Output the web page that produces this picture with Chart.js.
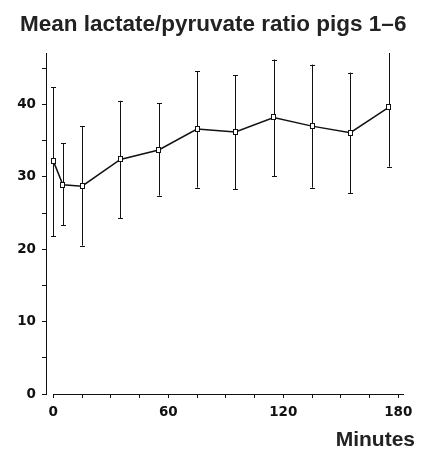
<!DOCTYPE html>
<html>
<head>
<meta charset="utf-8">
<script src="https://cdn.jsdelivr.net/npm/chart.js@4"></script>
<style>
  html, body { margin: 0; padding: 0; background: #fff; }
  #wrap { width: 427px; height: 456px; position: relative; }
</style>
</head>
<body>
<div id="wrap"><canvas id="chart" width="427" height="456"></canvas></div>
<script>
// Data
const minutes = [0, 5, 15, 35, 55, 75, 95, 115, 135, 155, 175];
const meanRatio = [32.2, 28.9, 28.7, 32.4, 33.7, 36.6, 36.2, 38.2, 37.0, 36.1, 39.6];
const upperBar = [42.4, 34.6, 37.0, 40.5, 40.2, 44.6, 44.0, 46.2, 45.5, 44.4, 47.8];
const lowerBar = [21.8, 23.3, 20.5, 24.3, 27.4, 28.5, 28.3, 30.1, 28.5, 27.7, 31.4];
const xTickValues = [0, 15, 30, 45, 60, 75, 90, 105, 120, 135, 150, 165, 180];
const yTickValues = [0, 5, 10, 15, 20, 25, 30, 35, 40, 45];

const titleText = 'Mean lactate/pyruvate ratio pigs 1\u20136';
const xAxisTitle = 'Minutes';

const ink = '#111';

// small white rectangle marker
const marker = document.createElement('canvas');
marker.width = 5;
marker.height = 6;
(function () {
  const c = marker.getContext('2d');
  c.fillStyle = '#fff';
  c.fillRect(0, 0, 5, 6);
  c.strokeStyle = ink;
  c.lineWidth = 1;
  c.strokeRect(0.5, 0.5, 4, 5);
})();

// error bars, x axis line and the texts
const extras = {
  id: 'extras',
  afterDatasetsDraw(chart) {
    const { ctx, chartArea, scales: { x, y } } = chart;
    ctx.save();
    ctx.beginPath();
    ctx.rect(chartArea.left, chartArea.top, chartArea.right - chartArea.left, chartArea.bottom - chartArea.top + 2);
    ctx.clip();
    ctx.strokeStyle = ink;
    ctx.lineWidth = 1;
    minutes.forEach((m, i) => {
      const px = Math.round(x.getPixelForValue(m)) + 0.5;
      const top = y.getPixelForValue(upperBar[i]);
      const bot = y.getPixelForValue(lowerBar[i]);
      ctx.beginPath();
      ctx.moveTo(px, top);
      ctx.lineTo(px, bot);
      ctx.moveTo(px - 2.5, Math.round(top) + 0.5);
      ctx.lineTo(px + 2.5, Math.round(top) + 0.5);
      ctx.moveTo(px - 2.5, Math.round(bot) + 0.5);
      ctx.lineTo(px + 2.5, Math.round(bot) + 0.5);
      ctx.stroke();
    });
    ctx.restore();
    // markers on top of the bars
    const meta = chart.getDatasetMeta(0);
    meta.data.forEach(pt => {
      ctx.drawImage(marker, Math.round(pt.x - 2.5), Math.round(pt.y - 3));
    });
  },
  afterDraw(chart) {
    const { ctx, chartArea, scales: { x } } = chart;
    ctx.save();
    ctx.strokeStyle = ink;
    ctx.lineWidth = 1;
    const ay = Math.round(chartArea.bottom) + 0.5;
    ctx.beginPath();
    ctx.moveTo(x.getPixelForValue(0), ay);
    ctx.lineTo(chartArea.right, ay);
    ctx.stroke();

    ctx.fillStyle = '#222';
    ctx.font = 'bold 22.5px "Liberation Sans", Arial, sans-serif';
    ctx.textAlign = 'left';
    ctx.textBaseline = 'alphabetic';
    ctx.fillText(titleText, 20, 31);

    ctx.font = 'bold 21px "Liberation Sans", Arial, sans-serif';
    ctx.textAlign = 'right';
    ctx.fillText(xAxisTitle, 415, 446);
    ctx.restore();
  }
};

const tickFont = { family: '"DejaVu Sans", sans-serif', size: 13.5, weight: 'bold' };

new Chart(document.getElementById('chart'), {
  type: 'line',
  data: {
    datasets: [{
      data: minutes.map((m, i) => ({ x: m, y: meanRatio[i] })),
      borderColor: ink,
      borderWidth: 1.5,
      pointStyle: marker,
      pointRadius: 3,
      tension: 0,
      fill: false
    }]
  },
  options: {
    responsive: false,
    animation: false,
    devicePixelRatio: 1,
    layout: { padding: { top: 53, right: 23, bottom: 32, left: 0 } },
    plugins: { legend: { display: false }, tooltip: { enabled: false } },
    scales: {
      x: {
        type: 'linear',
        min: -3.8,
        max: 183,
        afterBuildTicks: s => { s.ticks = xTickValues.map(v => ({ value: v })); },
        afterFit: s => { s.height = 30; },
        grid: { drawOnChartArea: false, drawTicks: true, tickLength: 4, color: ink },
        border: { display: false },
        ticks: {
          color: ink,
          font: tickFont,
          padding: 6,
          maxRotation: 0,
          autoSkip: false,
          callback: v => (v % 60 === 0 ? String(v) : '')
        }
      },
      y: {
        min: 0,
        max: 47.1,
        afterBuildTicks: s => { s.ticks = yTickValues.map(v => ({ value: v })); },
        afterFit: s => { s.width = 46; },
        grid: { drawOnChartArea: false, drawTicks: true, tickLength: 4, color: ink },
        border: { display: true, color: ink, width: 1 },
        ticks: {
          color: ink,
          font: tickFont,
          padding: 6,
          autoSkip: false,
          callback: v => (v % 10 === 0 ? String(v) : '')
        }
      }
    }
  },
  plugins: [extras]
});
</script>
</body>
</html>
